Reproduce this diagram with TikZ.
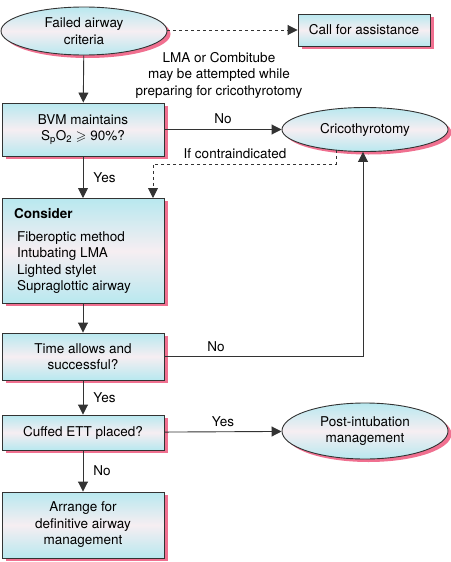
\documentclass[tikz,border=0pt]{standalone}
\usepackage{fontspec}
\setmainfont{TeX Gyre Heros}
\usepackage{amssymb}
\usetikzlibrary{shapes.geometric,shadows,arrows.meta}
\definecolor{cyantop}{HTML}{B8E8EF}
\definecolor{midpale}{HTML}{F6EEF2}
\definecolor{shadowpink}{HTML}{F07090}
\definecolor{linegray}{HTML}{333333}
\begin{document}
\begin{tikzpicture}[x=1pt,y=-1pt,
  font=\fontsize{13.5}{16.5}\selectfont,
  boxbase/.style={draw=linegray, line width=0.9pt, top color=cyantop, bottom color=cyantop, middle color=midpale,
    general shadow={shadow xshift=3.5pt, shadow yshift=-3pt, fill=shadowpink}, align=center, inner sep=2pt},
  rectbox/.style={boxbase, rectangle, minimum width=162pt},
  ovalbox/.style={boxbase, ellipse, minimum width=166pt, inner sep=0pt},
  conn/.style={draw=linegray, line width=0.9pt, -{Triangle[length=10pt,width=10pt]}},
  dconn/.style={conn, dash pattern=on 3pt off 3pt},
  lbl/.style={inner sep=0pt, align=center}
]
\useasboundingbox (0,0) rectangle (450,562);
% nodes
\node[ovalbox, minimum height=48pt] (fail) at (84,31) {Failed airway\\criteria};
\node[rectbox, minimum width=132pt, minimum height=32pt] (call) at (364,30) {Call for assistance};
\node[lbl] (note) at (219,75) {LMA or Combitube\\may be attempted while\\preparing for cricothyrotomy};
\node[rectbox, minimum height=53pt] (bvm) at (83,129.5) {BVM maintains\\S\textsubscript{p}O\textsubscript{2} $\geqslant$ 90\%?};
\node[ovalbox, minimum height=44pt] (crico) at (365,129.5) {Cricothyrotomy};
\node[rectbox, minimum height=105pt, anchor=north west] (consider) at (2,198) {};
\node[lbl, anchor=north west] (considerT) at (14,208) {\textbf{Consider}};
\node[lbl, anchor=north west, align=left] (considerL) at (17,231) {Fiberoptic method\\Intubating LMA\\Lighted stylet\\Supraglottic airway};
\node[rectbox, minimum height=47pt] (time) at (83,356.5) {Time allows and\\successful?};
\node[rectbox, minimum height=35pt] (cuffed) at (83,432.5) {Cuffed ETT placed?};
\node[ovalbox, minimum height=56pt] (post) at (365,431) {Post-intubation\\management};
\node[rectbox, minimum height=66pt] (arrange) at (83,525) {Arrange for\\definitive airway\\management};
% coordinates
\coordinate (cA) at (336,164);
\coordinate (cB) at (153,164);
\coordinate (cC) at (363,356.5);
% connectors
\draw[dconn] (fail.east |- call.west) -- (call.west);
\draw[conn] (fail) -- (bvm);
\draw[conn] (bvm) -- node[lbl, above=5pt] (no1) {No} (crico);
\draw[dconn] (crico.south -| cA) ++(0,-2) -- (cA) -- (cB) -- (cB |- consider.north);
\node[lbl] (ifc) at (235,154) {If contraindicated};
\draw[conn] (bvm) -- node[lbl, right=10pt] (yes1) {Yes} (bvm.south |- consider.north);
\draw[conn] (bvm.south |- consider.south) -- (time);
\draw[conn] (time.east) -- (cC) -- (crico.south -| cC);
\node[lbl] (no2) at (216,347) {No};
\draw[conn] (time) -- node[lbl, right=10pt] (yes2) {Yes} (cuffed);
\draw[conn] (cuffed) -- node[lbl, above=5pt] (yes3) {Yes} (post);
\draw[conn] (cuffed) -- node[lbl, right=10pt] (no3) {No} (arrange);
\end{tikzpicture}
\end{document}
